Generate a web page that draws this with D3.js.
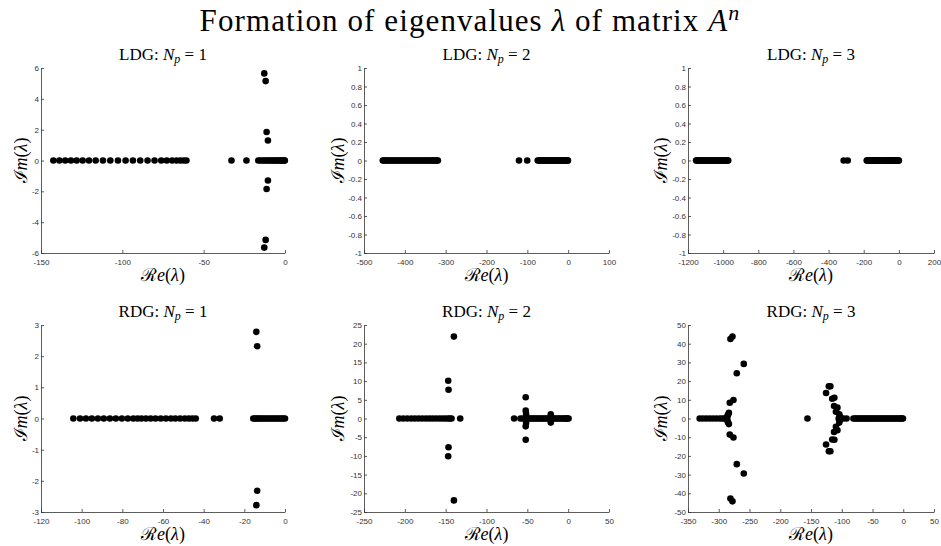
<!DOCTYPE html>
<html>
<head>
<meta charset="utf-8">
<script src="https://cdn.jsdelivr.net/npm/d3@7"></script>
<style>
    body { margin: 0; background: #fff; }
    .tick text { font-family: "Liberation Sans", Arial, sans-serif; font-size: 8px; fill: #333; }
    .domain, .tick line { stroke: #333; stroke-width: 0.8; }
    .serif { font-family: "Liberation Serif", "Times New Roman", serif; fill: #000; }
</style>
</head>
<body>
<svg id="chart" width="941" height="546"></svg>
<script>
const ldg1Real = [-142.4, -138.7, -135.1, -131.6, -128.1, -124.4, -120.5, -116.4, -111.9, -107.4, -102.7, -98.0,
    -93.5, -89.0, -84.5, -80.2, -76.1, -72.7, -69.4, -66.7, -64.3, -62.2, -60.6, -32.9, -23.7,
    -16.4, -15.0, -13.8, -12.6, -11.5, -10.5, -9.5, -8.5, -7.5, -6.6, -5.7, -4.8, -3.9, -3.1, -2.3, -1.6, -1.0, -0.5, -0.1];
const ldg1Complex = [[-12.75, 5.65], [-12.75, -5.65], [-11.9, 5.15], [-11.9, -5.15],
    [-11.3, 1.85], [-11.3, -1.85], [-10.5, 1.3], [-10.5, -1.3]];

const ldg2Real = [-454, -451, -448, -444.5, -441, -437.5, -434, -430.5, -427, -423.5, -420, -416, -412.5, -409,
    -405, -401.5, -398, -394, -390.5, -387, -383, -379.5, -376, -372, -368.5, -365, -361, -357.5, -354, -350.5,
    -347, -343.5, -340, -336.5, -333, -330, -327, -324, -321.5, -319,
    -120.4, -100.3,
    -74.6, -72, -69.5, -67, -64.5, -62, -59.5, -57, -54.5, -52, -49.5, -47, -44.5, -42, -39.5, -37, -34.5,
    -32, -29.5, -27, -24.5, -22, -19.5, -17, -14.5, -12, -9.5, -7, -5, -3, -1.5, -0.5];
const ldg2Complex = [];

const ldg3Real = [-1154, -1149, -1143, -1138, -1133, -1127, -1122, -1116, -1111, -1106, -1100, -1095, -1089,
    -1084, -1078, -1073, -1068, -1062, -1057, -1051, -1046, -1041, -1035, -1030, -1024, -1019, -1014, -1008,
    -1003, -997, -992, -987, -981, -976, -971,
    -314, -291,
    -183, -179, -175, -171, -167, -163, -159, -155, -151, -147, -143, -139, -135, -131, -127, -123, -119, -115,
    -111, -107, -103, -99.5,
    -88, -84, -80, -76, -72, -68, -64, -60, -56, -52, -48, -44, -40, -36, -32, -28, -24, -20, -16, -12, -8.5,
    -5, -2, 0];
const ldg3Complex = [];

const rdg1Real = [-104.1, -100.8, -97.9, -95.0, -92.0, -89.1, -86.1, -83.2, -80.2, -77.3, -74.6, -72.5, -70.6,
    -68.4, -66.1, -63.7, -61.1, -58.6, -56.1, -53.9, -51.6, -49.3, -47.3, -45.5, -43.9, -34.9, -32.1,
    -15.6, -14.8, -14.0, -13.2, -12.4, -11.5, -10.6, -9.7, -8.8, -7.9, -7.0, -6.1, -5.2, -4.3, -3.4, -2.5,
    -1.6, -0.8, 0];
const rdg1Complex = [[-14.1, 2.78], [-14.1, -2.78], [-13.7, 2.32], [-13.7, -2.32]];

const rdg2Real = [-206.8, -201.9, -197, -192.1, -187.6, -183.1, -178.7, -174.2, -170.1, -166.1, -162, -157.9,
    -154.2, -150.6, -147.3, -144.8, -142.8, -132.2,
    -66.2, -58.4, -55.2, -53, -51.5, -50, -48, -46, -44, -42, -40, -38, -36, -34, -32, -30, -28, -26, -24, -22,
    -20.5, -19, -17, -15, -13, -11, -9, -7, -5, -3.5, -2, -0.8, 0.5];
const rdg2Complex = [[-139.9, 21.9], [-139.9, -21.9], [-146.9, 10.1], [-146.9, -10.1], [-146.5, 7.7], [-146.5, -7.7],
    [-52, 5.7], [-52, -5.7], [-52, 2.1], [-52, -2.1], [-51.5, 1.2], [-51.5, -1.2], [-21.3, 1.1], [-21.3, -1.1]];

const rdg3Real = [-331, -325.6, -320.1, -314.7, -309.3, -303.8, -298.4, -294, -290.7, -288,
    -155.7, -105, -101.5, -97.5, -92.2,
    -81, -78.5, -76, -73.5, -71, -68.5, -66, -63.5, -61, -58.5, -56, -53.5, -51, -48.5, -46, -43.5, -41, -38.5,
    -36, -33.5, -31, -28.5, -26, -23.5, -21, -18.5, -16, -13.5, -11, -8.5, -6, -4, -2, -0.5];
const rdg3Complex = [[-286, 1], [-286, -1], [-285, 2], [-285, -2], [-283.5, 3], [-283.5, -3],
    [-282.1, 8.4], [-282.1, -8.6], [-276.1, 9.9], [-276.1, -10.2], [-281, 42.5], [-281, -42.8],
    [-277.7, 43.8], [-277.7, -44.3], [-270.7, 24.2], [-270.7, -24.4], [-259.3, 29.2], [-259.3, -29.4],
    [-125.5, 13.6], [-125.5, -13.9], [-121, 17.2], [-121, -17.5], [-118.5, 17.2], [-118.5, -17.5],
    [-115.5, 10.6], [-115.5, -11.2], [-112, 11.1], [-112, -11.4], [-112.5, 6.7], [-112.5, -7.2],
    [-109.5, 3.6], [-109.5, -4.4], [-107, 5.8], [-107, -6.3], [-104, 2.2], [-104, -2.2], [-103, 1], [-103, -1]];

// Tick values
const xTicksLdg1 = [-150, -100, -50, 0];
const xTicksLdg2 = [-500, -400, -300, -200, -100, 0, 100];
const xTicksLdg3 = [-1200, -1000, -800, -600, -400, -200, 0, 200];
const xTicksRdg1 = [-120, -100, -80, -60, -40, -20, 0];
const xTicksRdg2 = [-250, -200, -150, -100, -50, 0, 50];
const xTicksRdg3 = [-350, -300, -250, -200, -150, -100, -50, 0, 50];
const yTicksLdg1 = [-6, -4, -2, 0, 2, 4, 6];
const yTicksUnit = [-1, -0.8, -0.6, -0.4, -0.2, 0, 0.2, 0.4, 0.6, 0.8, 1];
const yTicksRdg1 = [-3, -2, -1, 0, 1, 2, 3];
const yTicksRdg2 = [-25, -20, -15, -10, -5, 0, 5, 10, 15, 20, 25];
const yTicksRdg3 = [-50, -40, -30, -20, -10, 0, 10, 20, 30, 40, 50];

const panels = [
    { row: 0, col: 0, method: 'LDG', np: 1, xTicks: xTicksLdg1, yTicks: yTicksLdg1, real: ldg1Real, complex: ldg1Complex },
    { row: 0, col: 1, method: 'LDG', np: 2, xTicks: xTicksLdg2, yTicks: yTicksUnit, real: ldg2Real, complex: ldg2Complex },
    { row: 0, col: 2, method: 'LDG', np: 3, xTicks: xTicksLdg3, yTicks: yTicksUnit, real: ldg3Real, complex: ldg3Complex },
    { row: 1, col: 0, method: 'RDG', np: 1, xTicks: xTicksRdg1, yTicks: yTicksRdg1, real: rdg1Real, complex: rdg1Complex },
    { row: 1, col: 1, method: 'RDG', np: 2, xTicks: xTicksRdg2, yTicks: yTicksRdg2, real: rdg2Real, complex: rdg2Complex },
    { row: 1, col: 2, method: 'RDG', np: 3, xTicks: xTicksRdg3, yTicks: yTicksRdg3, real: rdg3Real, complex: rdg3Complex }
];

const colX = [[41, 285], [364, 609], [688, 934]];
const rowY = [[68, 253], [325, 512]];
const yLabelGap = [20, 26, 27];

const svg = d3.select('#chart');

// Main title
const title = svg.append('text')
    .attr('class', 'serif')
    .attr('x', 470)
    .attr('y', 31)
    .attr('text-anchor', 'middle')
    .style('font-size', '31px')
    .style('letter-spacing', '1.1px');
title.append('tspan').text('Formation of eigenvalues ');
title.append('tspan').style('font-style', 'italic').text('λ');
title.append('tspan').text(' of matrix ');
title.append('tspan').style('font-style', 'italic').text('A');
title.append('tspan').style('font-style', 'italic').style('font-size', '22px').attr('dy', -11).text('n');

panels.forEach(p => {
    const [x0, x1] = colX[p.col];
    const [y0, y1] = rowY[p.row];

    const x = d3.scaleLinear()
        .domain(d3.extent(p.xTicks))
        .range([x0, x1]);
    const y = d3.scaleLinear()
        .domain(d3.extent(p.yTicks))
        .range([y1, y0]);

    const g = svg.append('g');

    g.append('g')
        .attr('transform', 'translate(0,' + y1 + ')')
        .call(d3.axisBottom(x).tickValues(p.xTicks).tickFormat(d => String(d))
            .tickSize(-3).tickSizeOuter(0).tickPadding(6));

    g.append('g')
        .attr('transform', 'translate(' + x0 + ',0)')
        .call(d3.axisLeft(y).tickValues(p.yTicks).tickFormat(d => String(d))
            .tickSize(-3).tickSizeOuter(0).tickPadding(2));

    const points = p.real.map(v => [v, 0]).concat(p.complex);

    g.selectAll('circle')
        .data(points)
        .enter().append('circle')
        .attr('cx', d => x(d[0]))
        .attr('cy', d => y(d[1]))
        .attr('r', 3.3)
        .style('fill', '#000');

    // Subplot title
    const cx = (x0 + x1) / 2;
    const t = g.append('text')
        .attr('class', 'serif')
        .attr('x', cx)
        .attr('y', y0 - 8)
        .attr('text-anchor', 'middle')
        .style('font-size', '17px');
    t.append('tspan').text(p.method + ': ');
    t.append('tspan').style('font-style', 'italic').text('N');
    t.append('tspan').style('font-style', 'italic').style('font-size', '12px').attr('dy', 3).text('p');
    t.append('tspan').attr('dy', -3).text(' = ' + p.np);

    // Axis labels
    const xl = g.append('text')
        .attr('class', 'serif')
        .attr('x', cx)
        .attr('y', y1 + 28)
        .attr('text-anchor', 'middle')
        .style('font-size', '18px');
    xl.append('tspan').text('ℛ');
    xl.append('tspan').style('font-style', 'italic').text('e');
    xl.append('tspan').text('(');
    xl.append('tspan').style('font-style', 'italic').text('λ');
    xl.append('tspan').text(')');

    const ly = (y0 + y1) / 2;
    const yl = g.append('text')
        .attr('class', 'serif')
        .attr('transform', 'translate(' + (x0 - yLabelGap[p.col]) + ',' + ly + ') rotate(-90)')
        .attr('text-anchor', 'middle')
        .attr('dy', '0.35em')
        .style('font-size', '18px');
    yl.append('tspan').text('ℐ');
    yl.append('tspan').style('font-style', 'italic').text('m');
    yl.append('tspan').text('(');
    yl.append('tspan').style('font-style', 'italic').text('λ');
    yl.append('tspan').text(')');
});
</script>
</body>
</html>
